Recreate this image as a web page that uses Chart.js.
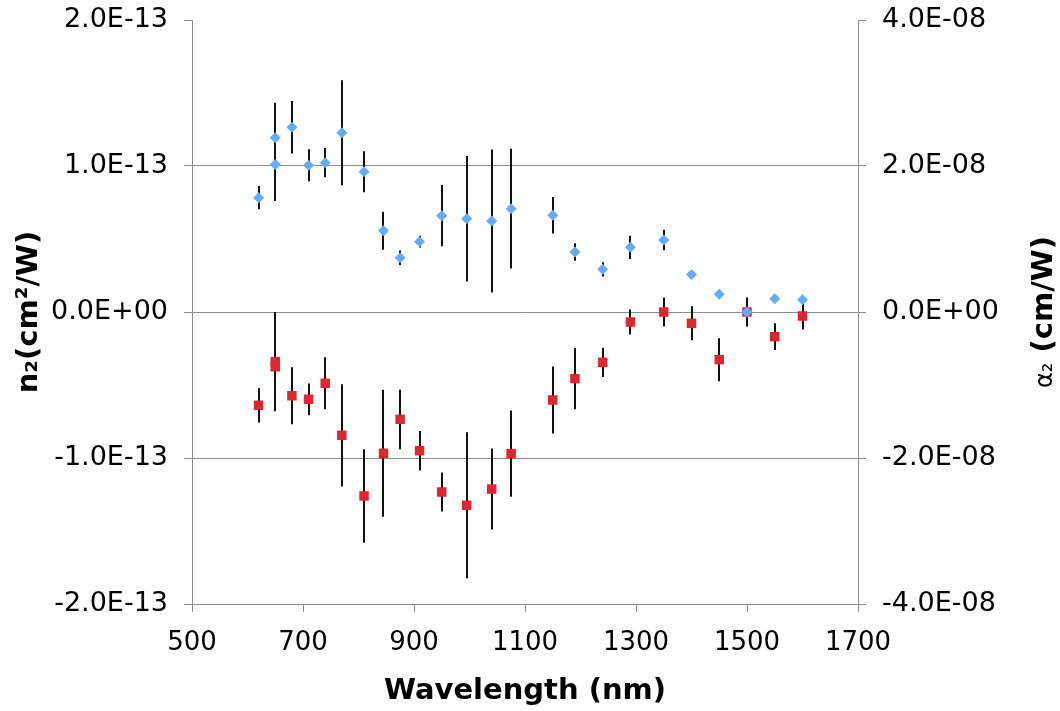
<!DOCTYPE html>
<html>
<head>
<meta charset="utf-8">
<script src="https://cdn.jsdelivr.net/npm/chart.js@4.4.1/dist/chart.umd.min.js"></script>
<style>
  html, body { margin: 0; padding: 0; background: #fff; }
  #wrap { width: 1060px; height: 711px; }
</style>
</head>
<body>
<div id="wrap"><canvas id="chart" width="1060" height="711"></canvas></div>
<script>
// Wavelength (nm), shared by both series
const wavelength = [620, 650, 650, 680, 710, 740, 770, 810, 845, 875, 910, 950, 995,
  1040, 1075, 1150, 1190, 1240, 1290, 1350, 1400, 1450, 1500, 1550, 1600];

// n2 (cm^2/W), left axis
const n2Values = [0.783e-13, 1.194e-13, 1.011e-13, 1.265e-13, 1.005e-13, 1.023e-13, 1.228e-13,
  0.961e-13, 0.557e-13, 0.372e-13, 0.482e-13, 0.660e-13, 0.639e-13, 0.623e-13, 0.708e-13,
  0.662e-13, 0.411e-13, 0.292e-13, 0.443e-13, 0.493e-13, 0.256e-13, 0.121e-13, 0.0,
  0.091e-13, 0.084e-13];
const n2Errors = [0.08e-13, 0.24e-13, 0.25e-13, 0.18e-13, 0.11e-13, 0.10e-13, 0.36e-13,
  0.14e-13, 0.13e-13, 0.05e-13, 0.04e-13, 0.21e-13, 0.43e-13, 0.49e-13, 0.41e-13,
  0.125e-13, 0.06e-13, 0.048e-13, 0.08e-13, 0.07e-13, 0, 0, 0, 0, 0];

// alpha2 (cm/W), right axis
const alpha2Values = [-1.278e-8, -0.68e-8, -0.75e-8, -1.147e-8, -1.196e-8, -0.977e-8, -1.689e-8,
  -2.52e-8, -1.936e-8, -1.47e-8, -1.90e-8, -2.466e-8, -2.648e-8, -2.425e-8, -1.94e-8,
  -1.205e-8, -0.913e-8, -0.689e-8, -0.137e-8, 0.0, -0.155e-8, -0.653e-8, 0.0,
  -0.338e-8, -0.055e-8];
const alpha2Errors = [0.235e-8, 0.68e-8, 0.59e-8, 0.39e-8, 0.217e-8, 0.356e-8, 0.70e-8,
  0.64e-8, 0.87e-8, 0.41e-8, 0.27e-8, 0.267e-8, 1.0e-8, 0.555e-8, 0.59e-8,
  0.46e-8, 0.42e-8, 0.2e-8, 0.17e-8, 0.2e-8, 0.233e-8, 0.295e-8, 0.2e-8,
  0.184e-8, 0.185e-8];

const xTicks = [500, 700, 900, 1100, 1300, 1500, 1700];
const n2Ticks = [-2e-13, -1e-13, 0, 1e-13, 2e-13];
const alpha2Ticks = [-4e-8, -2e-8, 0, 2e-8, 4e-8];

const FONT = "'DejaVu Sans', Verdana, sans-serif";
const AXIS_GREY = "#8c8c8c";

// Excel style 1.0E-13
function sci(v) {
  if (Math.abs(v) < 1e-30) return "0.0E+00";
  const e = Math.floor(Math.log10(Math.abs(v)) + 1e-6);
  const m = v / Math.pow(10, e);
  return m.toFixed(1) + "E" + (e < 0 ? "-" : "+") + String(Math.abs(e)).padStart(2, "0");
}

const points = (ys) => wavelength.map((x, i) => ({ x: x, y: ys[i] }));

// vertical error bars, drawn under the markers
const errorBars = {
  id: "errorBars",
  beforeDatasetsDraw(chart) {
    const ctx = chart.ctx;
    const xs = chart.scales.x;
    ctx.save();
    ctx.strokeStyle = "#111";
    ctx.lineWidth = 2;
    chart.data.datasets.forEach((ds) => {
      const ys = chart.scales[ds.yAxisID];
      ds.data.forEach((p, i) => {
        const err = ds.errors[i];
        if (!err) return;
        const px = Math.round(xs.getPixelForValue(p.x));
        ctx.beginPath();
        ctx.moveTo(px, ys.getPixelForValue(p.y + err));
        ctx.lineTo(px, ys.getPixelForValue(p.y - err));
        ctx.stroke();
      });
    });
    ctx.restore();
  },
};

// right axis title reads bottom to top, like the left one
const rightTitle = {
  id: "rightTitle",
  afterDraw(chart) {
    const ctx = chart.ctx;
    const s = chart.scales.y2;
    const cy = (s.top + s.bottom) / 2;
    const part1 = "α₂";
    const part2 = " (cm/W)";
    ctx.save();
    ctx.translate(1044, cy);
    ctx.rotate(-Math.PI / 2);
    ctx.textBaseline = "middle";
    ctx.textAlign = "left";
    ctx.fillStyle = "#000";
    ctx.font = "24px " + FONT;
    const w1 = ctx.measureText(part1).width;
    ctx.font = "bold 29px " + FONT;
    const w2 = ctx.measureText(part2).width;
    const x = -(w1 + w2) / 2;
    ctx.font = "24px " + FONT;
    ctx.fillText(part1, x, 2);
    ctx.font = "bold 29px " + FONT;
    ctx.fillText(part2, x + w1, 0);
    ctx.restore();
  },
};

// fixed axis sizes so the plot area sits where the reference has it
const fitV = (w) => (s) => { s.width = w; s.paddingTop = 10; s.paddingBottom = 10; };

new Chart(document.getElementById("chart"), {
  type: "scatter",
  data: {
    datasets: [
      {
        label: "n2",
        data: points(n2Values),
        errors: n2Errors,
        yAxisID: "y",
        pointStyle: "rectRot",
        pointRadius: 5.5,
        pointHoverRadius: 5.5,
        backgroundColor: "#66aaff",
        borderWidth: 0,
      },
      {
        label: "alpha2",
        data: points(alpha2Values),
        errors: alpha2Errors,
        yAxisID: "y2",
        pointStyle: "rect",
        pointRadius: 6.7,
        pointHoverRadius: 6.7,
        backgroundColor: "#de2630",
        borderWidth: 0,
      },
    ],
  },
  options: {
    responsive: false,
    animation: false,
    devicePixelRatio: 1,
    layout: { padding: { top: 20, left: 0, right: 0, bottom: 0 } },
    plugins: {
      legend: { display: false },
      tooltip: { enabled: false },
    },
    scales: {
      x: {
        type: "linear",
        min: 500,
        max: 1700,
        afterBuildTicks: (s) => { s.ticks = xTicks.map((v) => ({ value: v })); },
        afterFit: (s) => { s.height = 107; },
        grid: { drawOnChartArea: false, tickColor: AXIS_GREY, tickLength: 8 },
        border: { color: AXIS_GREY },
        ticks: { color: "#000", font: { family: FONT, size: 26 }, padding: 16, maxRotation: 0, callback: (v) => String(v) },
        title: {
          display: true,
          text: "Wavelength (nm)",
          color: "#000",
          font: { family: FONT, size: 29, weight: "bold" },
          padding: { top: 0, bottom: 2 },
        },
      },
      y: {
        position: "left",
        min: -2e-13,
        max: 2e-13,
        afterBuildTicks: (s) => { s.ticks = n2Ticks.map((v) => ({ value: v })); },
        afterFit: fitV(192),
        grid: {
          color: (c) => (c.index === 0 || c.index === n2Ticks.length - 1 ? "rgba(0,0,0,0)" : AXIS_GREY),
          tickColor: AXIS_GREY,
          tickLength: 8,
        },
        border: { color: AXIS_GREY },
        ticks: { color: "#000", font: { family: FONT, size: 27 }, padding: 16, callback: (v) => sci(v) },
        title: {
          display: true,
          text: "n₂(cm²/W)",
          color: "#000",
          font: { family: FONT, size: 29, weight: "bold" },
          padding: { top: 12, bottom: 0 },
        },
      },
      y2: {
        position: "right",
        min: -4e-8,
        max: 4e-8,
        afterBuildTicks: (s) => { s.ticks = alpha2Ticks.map((v) => ({ value: v })); },
        afterFit: fitV(202),
        grid: { drawOnChartArea: false, tickColor: AXIS_GREY, tickLength: 8 },
        border: { color: AXIS_GREY },
        ticks: { color: "#000", font: { family: FONT, size: 27 }, padding: 16, callback: (v) => sci(v) },
      },
    },
  },
  plugins: [errorBars, rightTitle],
});
</script>
</body>
</html>
